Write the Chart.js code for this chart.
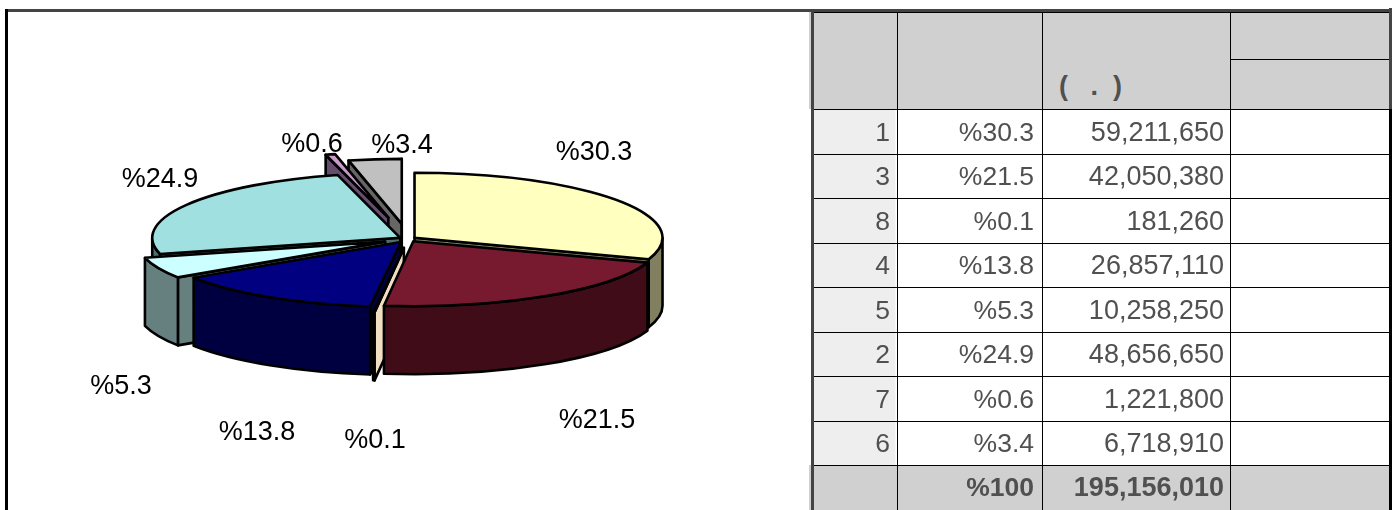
<!DOCTYPE html>
<html>
<head>
<meta charset="utf-8">
<title>Pie</title>
<script src="https://cdn.jsdelivr.net/npm/chart.js@4"></script>
<style>
  html, body { margin: 0; padding: 0; background: #fff; }
  body { width: 1396px; height: 510px; overflow: hidden; position: relative; font-family: "Liberation Sans", Arial, sans-serif; }
  #frameTop { position: absolute; left: 7px; top: 9px; width: 1385px; height: 3px; background: #444; }
  #frameLeft { position: absolute; left: 5px; top: 9px; width: 3px; height: 501px; background: #000; }
  #pie { position: absolute; left: 6px; top: -9px; }
  #tbl { position: absolute; left: 811px; top: 12px; border-collapse: collapse; table-layout: fixed; width: 578px; color: #505050; font-size: 27px; }
  #tbl td { border: 1px solid #000; padding: 1px 6px 0 0; text-align: right; box-sizing: border-box; height: 44.5px; background: #fff; overflow: hidden; }
  #tbl td.rank { background: linear-gradient(to right, #eee calc(100% - 2px), #fff 0); padding-right: 7px; font-size: 26.5px; }
  #tbl td.pct { padding-right: 8px; font-size: 26.5px; }
  #tbl td.head, #tbl td.total { background: #d0d0d0; font-weight: bold; padding-top: 0; }
  #tbl td.unit { text-align: left; vertical-align: bottom; padding: 0 0 7px 16px; white-space: pre; }
  #headBleed { position: absolute; left: 809px; top: 12px; width: 2px; height: 97px; background: #d0d0d0; }
  #totalBleed { position: absolute; left: 809px; top: 465px; width: 2px; height: 45px; background: #d0d0d0; }
  #edgeLeft { position: absolute; left: 811px; top: 12px; width: 3px; height: 498px; background: #444; }
  #edgeRightTop { position: absolute; left: 1389px; top: 8px; width: 3px; height: 101px; background: #444; }
  #edgeRight { position: absolute; left: 1389px; top: 109px; width: 3px; height: 401px; background: #000; }
</style>
</head>
<body>
<div id="frameTop"></div>
<div id="frameLeft"></div>
<canvas id="pie" width="804" height="496"></canvas>
<div id="headBleed"></div>
<div id="totalBleed"></div>
<table id="tbl"></table>
<div id="edgeLeft"></div>
<div id="edgeRightTop"></div>
<div id="edgeRight"></div>
<script>
// Values
const ranks = ["1", "3", "8", "4", "5", "2", "7", "6"];
const percentLabels = ["%30.3", "%21.5", "%0.1", "%13.8", "%5.3", "%24.9", "%0.6", "%3.4"];
const amounts = [59211650, 42050380, 181260, 26857110, 10258250, 48656650, 1221800, 6718910];
const totalPercent = "%100";
const totalAmount = "195,156,010";
const unitHeader = "(   .  )";

// Pie look
const topColors = ["#ffffc0", "#771a30", "#f2dfc2", "#000080", "#ccffff", "#a0e0e0", "#cc99cc", "#c0c0c0"];
const sideColors = ["#808060", "#3f0c18", "#f2dfc2", "#000040", "#668080", "#507070", "#664d70", "#666666"];
const explode = [8, 10, 34, 13.5, 25, 9, 84, 58];
const drawOrder = [7, 6, 0, 5, 4, 3, 2, 1];
const labelSpots = [[594, 153], [597, 421], [375, 441], [257, 433], [121, 387], [160, 180], [312, 145], [402, 146]];
const squash = 0.262;
const depth = 68;

// Chart.js does the angles, this plugin paints the arcs as a tilted solid
const pie3d = {
    id: 'pie3d',
    beforeDatasetsDraw(chart) {
        const ctx = chart.ctx;
        const arcs = chart.getDatasetMeta(0).data;
        ctx.save();
        ctx.lineWidth = 2.6;
        ctx.lineJoin = 'round';
        ctx.strokeStyle = '#000';
        drawOrder.forEach(i => drawSlice(ctx, arcs[i], i));
        ctx.restore();
        return false;
    },
    afterDraw(chart) {
        const ctx = chart.ctx;
        const box = chart.canvas.getBoundingClientRect();
        ctx.save();
        ctx.fillStyle = '#000';
        ctx.font = '27px "Liberation Sans", Arial, sans-serif';
        ctx.textAlign = 'center';
        ctx.textBaseline = 'middle';
        percentLabels.forEach((label, i) => {
            ctx.fillText(label, labelSpots[i][0] - box.left, labelSpots[i][1] - box.top);
        });
        ctx.restore();
    }
};

function drawSlice(ctx, arc, i) {
    const mid = (arc.startAngle + arc.endAngle) / 2;
    const R = arc.outerRadius;
    const x = arc.x + Math.cos(mid) * explode[i];
    const y = arc.y + Math.sin(mid) * explode[i] * squash;
    const a0 = arc.startAngle;
    const a1 = arc.endAngle;
    const rim = a => [x + Math.cos(a) * R, y + Math.sin(a) * R * squash];

    // cut faces
    ctx.fillStyle = sideColors[i];
    if (Math.cos(a0) < 0) face(ctx, x, y, rim(a0));
    if (Math.cos(a1) > 0) face(ctx, x, y, rim(a1));

    // outer wall, front half only
    const from = Math.max(a0, 0);
    const to = Math.min(a1, Math.PI);
    if (from < to) {
        ctx.beginPath();
        ctx.ellipse(x, y, R, R * squash, 0, from, to);
        ctx.ellipse(x, y + depth, R, R * squash, 0, to, from, true);
        ctx.closePath();
        ctx.fill();
        ctx.stroke();
    }

    // top
    ctx.fillStyle = topColors[i];
    ctx.beginPath();
    ctx.moveTo(x, y);
    ctx.ellipse(x, y, R, R * squash, 0, a0, a1);
    ctx.closePath();
    ctx.fill();
    ctx.stroke();
}

function face(ctx, x, y, p) {
    ctx.beginPath();
    ctx.moveTo(x, y);
    ctx.lineTo(p[0], p[1]);
    ctx.lineTo(p[0], p[1] + depth);
    ctx.lineTo(x, y + depth);
    ctx.closePath();
    ctx.fill();
    ctx.stroke();
}

new Chart(document.getElementById('pie').getContext('2d'), {
    type: 'pie',
    data: {
        labels: percentLabels,
        datasets: [{ data: amounts, backgroundColor: topColors, borderWidth: 0 }]
    },
    options: {
        responsive: false,
        animation: false,
        plugins: { legend: { display: false }, tooltip: { enabled: false } }
    },
    plugins: [pie3d]
});

// Table on the right
const colWidths = [86, 145, 188, 159];
let html = '<colgroup>' + colWidths.map(w => '<col style="width:' + w + 'px">').join('') + '</colgroup>';
html += '<tr><td class="head" rowspan="2" style="height:97px"></td><td class="head" rowspan="2"></td>' +
    '<td class="head unit" rowspan="2">' + unitHeader + '</td><td class="head" style="height:47px"></td></tr>';
html += '<tr><td class="head" style="height:50px"></td></tr>';
ranks.forEach((r, i) => {
    html += '<tr><td class="rank">' + r + '</td><td class="pct">' + percentLabels[i] + '</td><td>' +
        amounts[i].toLocaleString('en-US') + '</td><td></td></tr>';
});
html += '<tr><td class="total"></td><td class="total pct">' + totalPercent + '</td><td class="total">' + totalAmount + '</td><td class="total"></td></tr>';
document.getElementById('tbl').innerHTML = html;
</script>
</body>
</html>
